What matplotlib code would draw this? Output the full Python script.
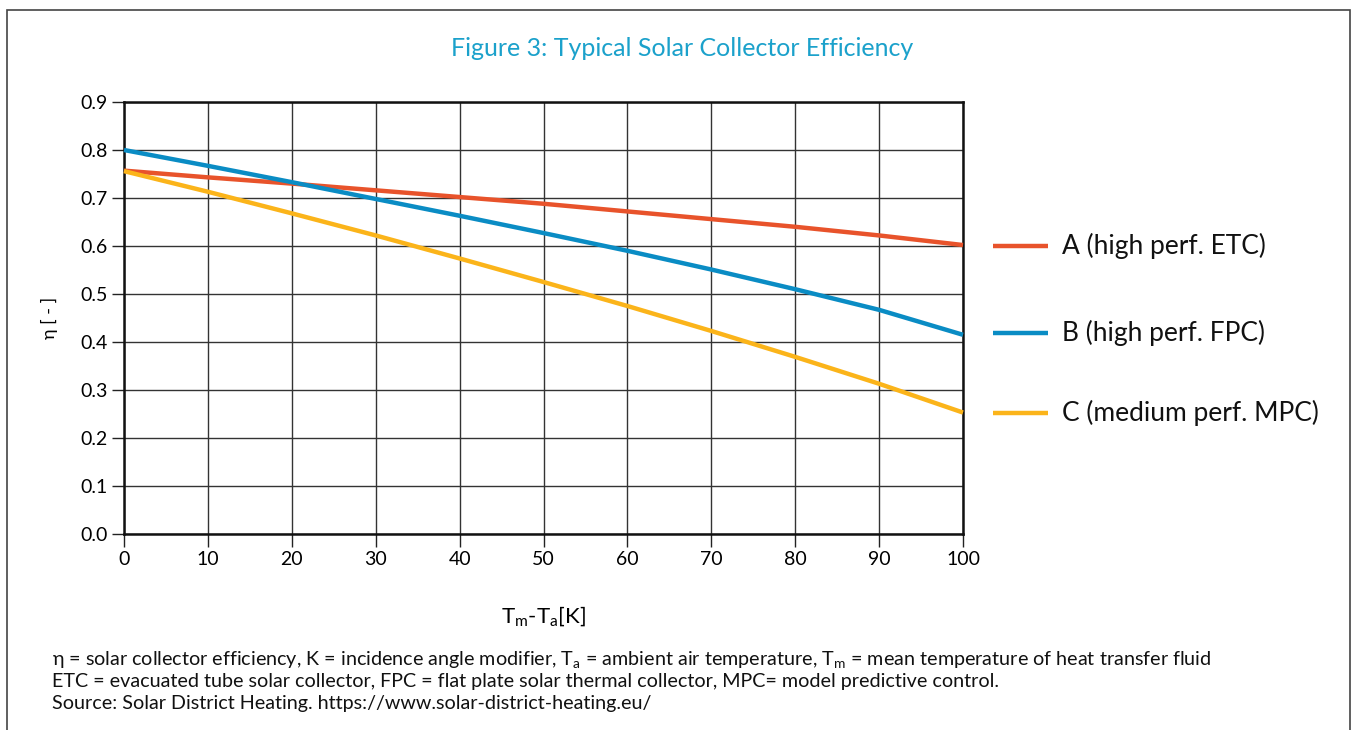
import numpy as np
import matplotlib
matplotlib.use('Agg')
import matplotlib.pyplot as plt
from matplotlib.lines import Line2D
from matplotlib.patches import Rectangle

plt.rcParams['font.family'] = ['Lato', 'DejaVu Sans']
plt.rcParams['mathtext.fontset'] = 'custom'
plt.rcParams['mathtext.rm'] = 'Lato'

# temperature difference Tm-Ta [K]
dt = [0, 10, 20, 30, 40, 50, 60, 70, 80, 90, 100]
# efficiency curves
eta_a = [0.757, 0.743, 0.730, 0.716, 0.702, 0.688, 0.672, 0.656, 0.640, 0.622, 0.602]
eta_b = [0.800, 0.767, 0.733, 0.698, 0.663, 0.627, 0.590, 0.551, 0.510, 0.467, 0.415]
eta_c = [0.756, 0.713, 0.668, 0.622, 0.574, 0.525, 0.475, 0.423, 0.369, 0.313, 0.253]
labels = ['A (high perf. ETC)', 'B (high perf. FPC)', 'C (medium perf. MPC)']
colors = ['#E8532B', '#0A8CC4', '#FBB41A']

W, H = 1356, 730
fig = plt.figure(figsize=(W / 100, H / 100), dpi=100)
ax = fig.add_axes([124 / W, 196 / H, (963 - 124) / W, (534 - 102) / H])

for y, c in zip([eta_a, eta_b, eta_c], colors):
    ax.plot(dt, y, color=c, lw=3.2, solid_capstyle='butt', zorder=3,
            clip_on=False)

ax.set_xlim(0, 100)
ax.set_ylim(0, 0.9)
ax.set_xticks(np.arange(0, 101, 10))
ax.set_yticks(np.arange(0, 0.91, 0.1))
ax.set_yticklabels(['%.1f' % v for v in np.arange(0, 0.91, 0.1)])
ax.grid(True, color='#333333', lw=1.0)
ax.tick_params(axis='both', length=9, width=1, color='#222222',
               labelsize=14, pad=3)
for s in ax.spines.values():
    s.set_linewidth(1.8)
    s.set_color('#111111')

ax.set_ylabel('η [ - ]', fontsize=13, labelpad=16)
ax.set_xlabel(r'T$_\mathregular{m}$-T$_\mathregular{a}$[K]', fontsize=16,
              labelpad=27)

# legend on the right
leg_y = [246, 333, 413]
for yy, c, lab in zip(leg_y, colors, labels):
    fig.add_artist(Line2D([993 / W, 1048 / W], [1 - yy / H, 1 - yy / H],
                          color=c, lw=3.2, solid_capstyle='butt'))
    fig.text(1062 / W, 1 - yy / H, lab, fontsize=19, va='center',
             ha='left', color='#111111')

fig.text(0.503, 1 - 49 / H, 'Figure 3: Typical Solar Collector Efficiency',
         ha='center', va='center', fontsize=18, color='#1BA1CB')

notes = [r'η = solar collector efficiency, K = incidence angle modifier, '
         r'T$_\mathregular{a}$ = ambient air temperature, '
         r'T$_\mathregular{m}$ = mean temperature of heat transfer fluid',
         'ETC = evacuated tube solar collector, FPC = flat plate solar '
         'thermal collector, MPC= model predictive control.',
         'Source: Solar District Heating. https://www.solar-district-heating.eu/']
for i, t in enumerate(notes):
    fig.text(52 / W, 1 - (660 + 22 * i) / H, t, fontsize=14.2, va='center',
             ha='left', color='#111111')

fig.add_artist(Rectangle((7 / W, -0.05), (1350 - 7) / W, 1.05 - 10 / H,
                         fill=False, lw=1.2, edgecolor='#444444'))

fig.savefig('out.png', dpi=100)
